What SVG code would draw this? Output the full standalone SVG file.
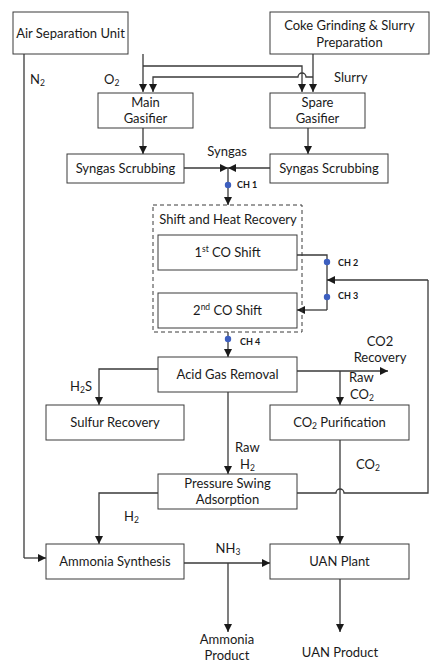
<svg xmlns="http://www.w3.org/2000/svg" width="431" height="662" viewBox="0 0 431 662">
<defs>
<marker id="ah" viewBox="0 0 10 10" refX="10" refY="5" markerWidth="8" markerHeight="8" markerUnits="userSpaceOnUse" orient="auto">
<path d="M0,0 L10,5 L0,10 Z" fill="#1a1a1a"/>
</marker>
</defs>
<style>
.box{fill:#fff;stroke:#3a3a3a;stroke-width:1}
.dash{fill:none;stroke:#3a3a3a;stroke-width:1;stroke-dasharray:4,3}
.ln{fill:none;stroke:#3a3a3a;stroke-width:1.3}
.arr{fill:none;stroke:#3a3a3a;stroke-width:1.3;marker-end:url(#ah)}
text{font-family:Lato,"Open Sans","Liberation Sans",sans-serif;font-size:13px;fill:#1a1a1a;text-anchor:middle}
.lb{text-anchor:start}
.ch{font-size:9px;font-weight:bold;text-anchor:start}
.dot{fill:#3d5fbf}
.sub{font-size:8.5px}
</style>
<g id="connectors">
<path class="ln" d="M24,54 V558"/>
<path class="arr" d="M24,558 H46"/>
<path class="arr" d="M143,54 V92"/>
<path class="arr" d="M143,66 H302 V92"/>
<path class="arr" d="M313,54 V92"/>
<path class="arr" d="M313,77 H306 A4,4 0 0 0 298,77 H153 V92"/>
<path class="arr" d="M143,128 V154"/>
<path class="arr" d="M308,128 V154"/>
<path class="arr" d="M184,168 H228"/>
<path class="arr" d="M270,168 H228"/>
<path class="arr" d="M228,168 V205"/>
<path class="ln" d="M297,255 H327 V310"/>
<path class="arr" d="M327,310 H297"/>
<path class="arr" d="M428,280 H327"/>
<path class="ln" d="M297,493 H336 A4,4 0 0 1 344,493 H428 V280"/>
<path class="arr" d="M228,332 V357"/>
<path class="arr" d="M297,371 H388"/>
<path class="arr" d="M340,371 V405"/>
<path class="arr" d="M158,369 H99 V405"/>
<path class="arr" d="M228,392 V474"/>
<path class="arr" d="M340,440 V544"/>
<path class="arr" d="M158,493 H99 V544"/>
<path class="arr" d="M184,563 H270"/>
<path class="arr" d="M228,563 V632"/>
<path class="arr" d="M340,579 V632"/>
<circle class="dot" cx="228" cy="185" r="3.2"/>
<circle class="dot" cx="327" cy="262" r="3.2"/>
<circle class="dot" cx="327" cy="297" r="3.2"/>
<circle class="dot" cx="228" cy="339" r="3.2"/>
<text class="ch" x="237" y="188">CH 1</text>
<text class="ch" x="338" y="266">CH 2</text>
<text class="ch" x="338" y="299">CH 3</text>
<text class="ch" x="240" y="345">CH 4</text>
<text class="lb" x="30" y="84">N<tspan class="sub" dy="2">2</tspan></text>
<text class="lb" x="104" y="84">O<tspan class="sub" dy="2">2</tspan></text>
<text class="lb" x="334" y="82">Slurry</text>
<text x="227" y="156">Syngas</text>
<text x="380" y="346">CO2</text>
<text x="380" y="362">Recovery</text>
<text class="lb" x="349" y="382">Raw</text>
<text class="lb" x="350" y="399">CO<tspan class="sub" dy="2">2</tspan></text>
<text class="lb" x="70" y="391">H<tspan class="sub" dy="2">2</tspan><tspan dy="-2">S</tspan></text>
<text class="lb" x="235" y="452">Raw</text>
<text class="lb" x="240" y="469">H<tspan class="sub" dy="2">2</tspan></text>
<text class="lb" x="356" y="469">CO<tspan class="sub" dy="2">2</tspan></text>
<text class="lb" x="124" y="521">H<tspan class="sub" dy="2">2</tspan></text>
<text x="228" y="553">NH<tspan class="sub" dy="2">3</tspan></text>
<text x="227" y="644">Ammonia</text>
<text x="227" y="660">Product</text>
<text x="340" y="657">UAN Product</text>
</g>
<g id="asu"><rect class="box" x="13" y="12" width="115" height="42"/><text x="70.5" y="38">Air Separation Unit</text></g>
<g id="coke"><rect class="box" x="270" y="12" width="159" height="42"/><text x="349.5" y="30">Coke Grinding &amp; Slurry</text><text x="349.5" y="47">Preparation</text></g>
<g id="main-gasifier"><rect class="box" x="98" y="93" width="95" height="35"/><text x="145.5" y="107">Main</text><text x="145.5" y="123">Gasifier</text></g>
<g id="spare-gasifier"><rect class="box" x="270" y="93" width="95" height="35"/><text x="317.5" y="107">Spare</text><text x="317.5" y="123">Gasifier</text></g>
<g id="scrub-left"><rect class="box" x="67" y="154" width="117" height="29"/><text x="125.5" y="173">Syngas Scrubbing</text></g>
<g id="scrub-right"><rect class="box" x="270" y="154" width="118" height="29"/><text x="329" y="173">Syngas Scrubbing</text></g>
<g id="shift"><rect class="dash" x="153" y="205" width="149" height="127"/><text x="228" y="224">Shift and Heat Recovery</text></g>
<g id="shift1"><rect class="box" x="158" y="235" width="139" height="35"/><text x="227.5" y="257">1<tspan class="sub" dy="-5">st</tspan><tspan dy="5"> CO Shift</tspan></text></g>
<g id="shift2"><rect class="box" x="158" y="293" width="139" height="35"/><text x="227.5" y="315">2<tspan class="sub" dy="-5">nd</tspan><tspan dy="5"> CO Shift</tspan></text></g>
<g id="agr"><rect class="box" x="158" y="357" width="139" height="35"/><text x="227.5" y="379">Acid Gas Removal</text></g>
<g id="sulfur"><rect class="box" x="46" y="405" width="138" height="35"/><text x="115" y="427">Sulfur Recovery</text></g>
<g id="co2p"><rect class="box" x="270" y="405" width="139" height="35"/><text x="339.5" y="427">CO<tspan class="sub" dy="2">2</tspan><tspan dy="-2"> Purification</tspan></text></g>
<g id="psa"><rect class="box" x="158" y="474" width="139" height="35"/><text x="227.5" y="488">Pressure Swing</text><text x="227.5" y="504">Adsorption</text></g>
<g id="ammonia"><rect class="box" x="46" y="544" width="138" height="35"/><text x="115" y="566">Ammonia Synthesis</text></g>
<g id="uan"><rect class="box" x="270" y="544" width="139" height="35"/><text x="339.5" y="566">UAN Plant</text></g>
</svg>
